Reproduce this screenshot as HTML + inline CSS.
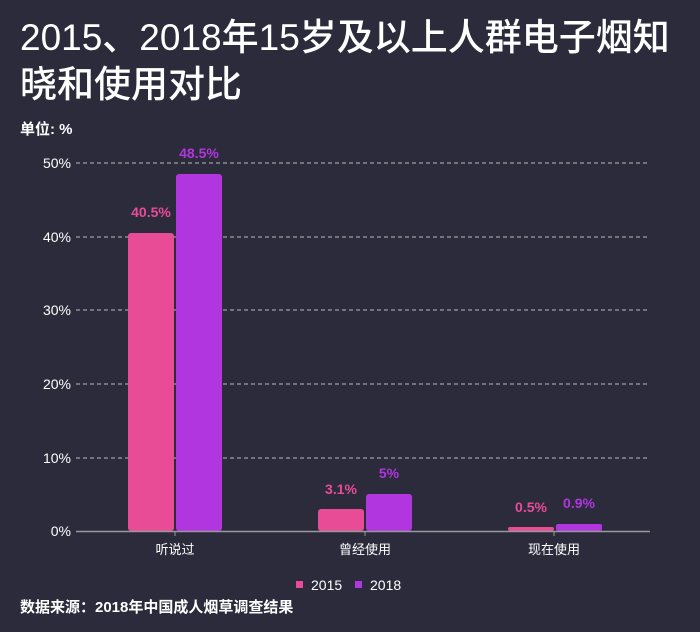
<!DOCTYPE html><html><head><meta charset="utf-8"><style>
body{margin:0;background:#2c2b3c;width:700px;height:632px;overflow:hidden;font-family:"Liberation Sans","Noto Sans CJK SC",sans-serif;color:#fff}
.t{position:absolute;left:20px;top:14px;font-size:37px;line-height:47px;font-weight:500;width:680px;white-space:nowrap}
</style></head><body>
<div class="t">2015、2018年15岁及以上人群电子烟知<br>晓和使用对比</div>
<svg width="700" height="632" style="position:absolute;left:0;top:0" font-family="Liberation Sans, Noto Sans CJK SC, sans-serif">
<text x="20" y="134" font-size="15" font-weight="bold" fill="#fff">单位: %</text>
<g stroke="#bbb" stroke-dasharray="4,3" stroke-width="1">
<line x1="76" x2="650" y1="163" y2="163"/><line x1="76" x2="650" y1="237" y2="237"/><line x1="76" x2="650" y1="310" y2="310"/><line x1="76" x2="650" y1="384" y2="384"/><line x1="76" x2="650" y1="458" y2="458"/></g>
<g font-size="14" fill="#fff" text-anchor="end">
<text x="71" y="168">50%</text><text x="71" y="242">40%</text><text x="71" y="315">30%</text><text x="71" y="389">20%</text><text x="71" y="463">10%</text><text x="71" y="536">0%</text></g>
<g fill="#e84c97"><rect x="128" y="233" width="46" height="298" rx="3"/><rect x="318" y="509" width="46" height="22" rx="3"/><rect x="508" y="527" width="46" height="4" rx="2"/></g>
<g fill="#b136e0"><rect x="176" y="174" width="46" height="357" rx="3"/><rect x="366" y="494" width="46" height="37" rx="3"/><rect x="556" y="524" width="46" height="7" rx="2"/></g>
<line x1="76" x2="650" y1="531.5" y2="531.5" stroke="#999" stroke-width="1.5"/>
<g stroke="#999"><line x1="175" x2="175" y1="531" y2="536"/><line x1="365" x2="365" y1="531" y2="536"/><line x1="554" x2="554" y1="531" y2="536"/></g>
<g font-size="14" font-weight="bold" text-anchor="middle">
<text x="151" y="217" fill="#e84c97">40.5%</text><text x="199" y="158" fill="#b136e0">48.5%</text>
<text x="341" y="494" fill="#e84c97">3.1%</text><text x="389" y="478" fill="#b136e0">5%</text>
<text x="531" y="512" fill="#e84c97">0.5%</text><text x="579" y="508" fill="#b136e0">0.9%</text></g>
<g font-size="13" fill="#fff" text-anchor="middle"><text x="175" y="554">听说过</text><text x="365" y="554">曾经使用</text><text x="554" y="554">现在使用</text></g>
<rect x="296" y="581" width="7" height="7" fill="#e84c97"/><text x="311" y="590" font-size="14" fill="#fff">2015</text>
<rect x="355" y="581" width="7" height="7" fill="#b136e0"/><text x="370" y="590" font-size="14" fill="#fff">2018</text>
<text x="20" y="612" font-size="15" font-weight="bold" fill="#fff">数据来源：2018年中国成人烟草调查结果</text>
</svg>
</body></html>
